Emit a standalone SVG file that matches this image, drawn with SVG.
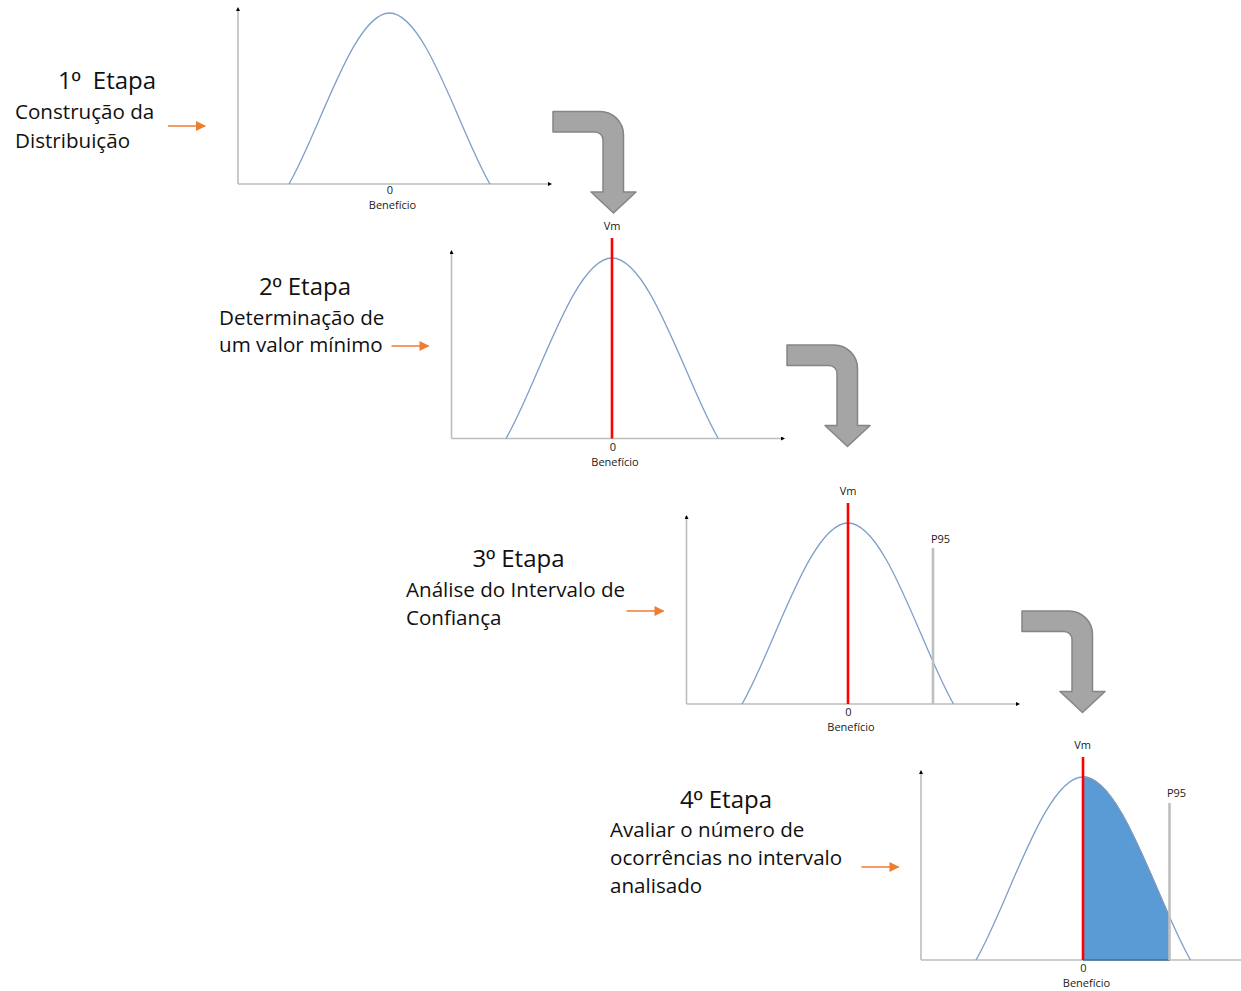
<svg xmlns="http://www.w3.org/2000/svg" width="1241" height="991" viewBox="0 0 1241 991">
  <style>
    .title { font-family: "Open Sans", "Noto Sans", "DejaVu Sans", sans-serif; font-size: 24px; fill: #111; text-anchor: middle; }
    .ord { font-family: "Liberation Sans", "DejaVu Sans", sans-serif; }
    .body { font-family: "Open Sans", "Noto Sans", "DejaVu Sans", sans-serif; font-size: 20.6px; fill: #111; }
    .small { font-family: "Open Sans", "Noto Sans", "DejaVu Sans", sans-serif; font-size: 11px; fill: #1a1a1a; text-anchor: middle; }
    .axis { stroke: #BDBDBD; stroke-width: 1.6; fill: none; }
    .axis-arrow { stroke: #BDBDBD; stroke-width: 1.6; fill: none; marker-end: url(#axisHead); }
    .curve { stroke: #7F9FC8; stroke-width: 1.3; fill: none; }
    .vm { stroke: #FF0000; stroke-width: 2.6; }
    .p95 { stroke: #BFBFBF; stroke-width: 2.6; }
    .step { stroke: #ED7D31; stroke-width: 1.5; fill: none; marker-end: url(#orangeHead); }
    .bend { fill: #A5A5A5; stroke: #858585; stroke-width: 1.5; stroke-linejoin: round; }
  </style>
  <defs>
    <marker id="axisHead" viewBox="0 0 8 8" refX="6" refY="4" markerWidth="4" markerHeight="4" markerUnits="userSpaceOnUse" orient="auto">
      <path d="M0,0 L8,4 L0,8 Z" fill="#000"/>
    </marker>
    <marker id="orangeHead" viewBox="0 0 10 10" refX="9" refY="5" markerWidth="11" markerHeight="10" markerUnits="userSpaceOnUse" orient="auto">
      <path d="M0,0 L10,5 L0,10 Z" fill="#ED7D31"/>
    </marker>
    <!-- bent (down-turning) block arrow, drawn at its first position -->
    <path id="bentArrow" class="bend" d="M553,111.5 H600 A23.5,23.5 0 0 1 623.5,135 V192 H636 L613.5,213 L591,192 H603 V140 A8,8 0 0 0 595,132 H553 Z"/>
    <clipPath id="band">
      <rect x="1083" y="700" width="86.5" height="270"/>
    </clipPath>
  </defs>

  <rect width="1241" height="991" fill="#FFFFFF"/>

  <!-- Stage 1 -->
  <g id="stage1">
    <text class="title" x="107" y="89" xml:space="preserve">1<tspan class="ord">º</tspan>  Etapa</text>
    <text class="body" x="15" y="119">Construção da</text>
    <text class="body" x="15" y="148">Distribuição</text>
    <path class="axis-arrow" d="M238,184 V8"/>
    <path class="axis-arrow" d="M238,184 H551"/>
    <path class="curve" d="M289,184 C319.2,132.7 353.3,13 389.5,13 C425.7,13 459.9,132.7 490,184"/>
    <text class="small" x="390" y="194">0</text>
    <text class="small" x="392.5" y="209">Benefício</text>
  </g>

  <!-- Stage 2 -->
  <g id="stage2">
    <text class="title" x="305" y="295">2<tspan class="ord">º</tspan> Etapa</text>
    <text class="body" x="219" y="325">Determinação de</text>
    <text class="body" x="219" y="352">um valor mínimo</text>
    <path class="axis-arrow" d="M451.5,438.5 V251"/>
    <path class="axis-arrow" d="M451.5,438.5 H784"/>
    <path class="curve" d="M506,438.5 C537.8,384.4 573.8,258 612,258 C650.3,258 686.4,384.4 718.3,438.5"/>
    <line class="vm" x1="612" y1="238" x2="612" y2="438.5"/>
    <text class="small" x="612" y="230">Vm</text>
    <text class="small" x="613" y="451">0</text>
    <text class="small" x="615" y="465.5">Benefício</text>
  </g>

  <!-- Stage 3 -->
  <g id="stage3">
    <text class="title" x="518.5" y="567">3<tspan class="ord">º</tspan> Etapa</text>
    <text class="body" x="406" y="597">Análise do Intervalo de</text>
    <text class="body" x="406" y="625">Confiança</text>
    <path class="axis-arrow" d="M686.5,704 V516"/>
    <path class="axis-arrow" d="M686.5,704 H1019"/>
    <path class="curve" d="M742,704 C773.8,649.7 809.8,523 848,523 C886,523 921.9,649.7 953.5,704"/>
    <line class="vm" x1="848" y1="503" x2="848" y2="704"/>
    <line class="p95" x1="933" y1="548" x2="933" y2="704"/>
    <text class="small" x="848" y="495">Vm</text>
    <text class="small" x="940.5" y="543">P95</text>
    <text class="small" x="848.5" y="716">0</text>
    <text class="small" x="851" y="730.5">Benefício</text>
  </g>

  <!-- Stage 4 -->
  <g id="stage4">
    <text class="title" x="726" y="807.5">4<tspan class="ord">º</tspan> Etapa</text>
    <text class="body" x="610" y="837">Avaliar o número de</text>
    <text class="body" x="610" y="865">ocorrências no intervalo</text>
    <text class="body" x="610" y="893">analisado</text>
    <path class="axis-arrow" d="M921,960 V771"/>
    <path class="axis" d="M921,960 H1241"/>
    <path d="M976,960 C1008.1,905.1 1044.5,777 1083,777 C1121.7,777 1158.3,905.1 1190.5,960 Z" fill="#5B9BD5" stroke="#41719C" stroke-width="1.3" clip-path="url(#band)"/>
    <path class="curve" d="M976,960 C1008.1,905.1 1044.5,777 1083,777 C1121.7,777 1158.3,905.1 1190.5,960"/>
    <line class="vm" x1="1083" y1="757" x2="1083" y2="960"/>
    <line class="p95" x1="1169.5" y1="803" x2="1169.5" y2="960"/>
    <text class="small" x="1082.5" y="748.5">Vm</text>
    <text class="small" x="1176.5" y="797">P95</text>
    <text class="small" x="1083.5" y="971.5">0</text>
    <text class="small" x="1086.5" y="986.5">Benefício</text>
  </g>

  <!-- Connectors -->
  <g id="connectors">
    <line class="step" x1="168" y1="126" x2="205" y2="126"/>
    <line class="step" x1="391.5" y1="346" x2="428.5" y2="346"/>
    <line class="step" x1="626.5" y1="611" x2="663.5" y2="611"/>
    <line class="step" x1="861.5" y1="867" x2="898.5" y2="867"/>
    <use href="#bentArrow"/>
    <use href="#bentArrow" transform="translate(234,233.5)"/>
    <use href="#bentArrow" transform="translate(469,499.5)"/>
  </g>
</svg>
